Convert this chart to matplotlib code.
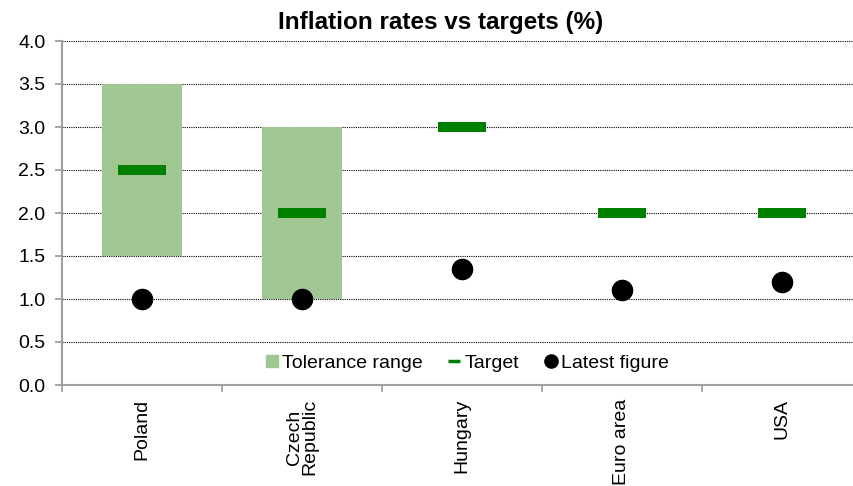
import matplotlib
matplotlib.use("Agg")
import numpy as np
from matplotlib import pyplot as plt
from matplotlib.patches import Patch
from matplotlib.lines import Line2D

countries = ["Poland", "Czech\nRepublic", "Hungary", "Euro area", "USA"]
range_low = [1.5, 1.0, np.nan, np.nan, np.nan]
range_high = [3.5, 3.0, np.nan, np.nan, np.nan]
targets = [2.5, 2.0, 3.0, 2.0, 2.0]
latest = [1.0, 1.0, 1.35, 1.1, 1.2]

plt.rcParams['font.family'] = ['Liberation Sans', 'DejaVu Sans']

fig = plt.figure(figsize=(8.54, 4.86), dpi=100)
# axes runs past the right edge of the picture, like the original
ax = fig.add_axes([62/854, 101/486, 800/854, 344/486])

x = np.arange(len(countries))
low = np.array(range_low)
high = np.array(range_high)
ax.bar(x, high - low, bottom=low, width=0.5, color="#A0C791", zorder=2)
ax.plot(x, targets, linestyle="none", marker="_", markersize=34, markeredgewidth=7.2,
        color="#008000", zorder=3)
ax.plot(x, latest, linestyle="none", marker="o", markersize=14.5, color="black", zorder=4)

ax.set_xlim(-0.5, len(countries) - 0.5)
ax.set_ylim(0, 4)
ax.set_yticks(np.arange(0, 4.01, 0.5))
ax.set_yticklabels([f"{v:.1f}" for v in np.arange(0, 4.01, 0.5)], fontsize=14)
ax.set_xticks(x)
ax.set_xticklabels(countries, rotation=90, fontsize=14, linespacing=0.9)
ax.set_xticks(np.arange(-0.5, len(countries), 1), minor=True)
ax.tick_params(axis="x", which="major", length=0, pad=10)
ax.tick_params(axis="x", which="minor", length=5, color="#A0A0A0", width=1.3)
ax.tick_params(axis="y", length=5, color="#A0A0A0", width=1.3, pad=7)

ax.grid(axis="y", color="black", linestyle=(0, (1, 1)), linewidth=0.8, zorder=1)
ax.set_axisbelow(True)
for s in ["top", "right"]:
    ax.spines[s].set_visible(False)
for s in ["left", "bottom"]:
    ax.spines[s].set_color("#A0A0A0")
    ax.spines[s].set_linewidth(1.5)

handles = [
    Line2D([], [], linestyle="none", marker="s", markersize=8, color="#A0C791"),
    Line2D([], [], linestyle="none", marker="_", markersize=9, markeredgewidth=2.5, color="#008000"),
    Line2D([], [], linestyle="none", marker="o", markersize=9.5, color="black"),
]
ax.legend(handles, ["Tolerance range", "Target", "Latest figure"], ncol=3, frameon=False,
          loc="center", bbox_to_anchor=(0.506, 0.064), fontsize=14,
          handlelength=0.7, handletextpad=0.15, columnspacing=1.3)

fig.text(441/854, 1 - 22/486, "Inflation rates vs targets (%)", ha="center", va="center",
         fontsize=17.5, fontweight="bold")

fig.savefig("out.png", dpi=100)
